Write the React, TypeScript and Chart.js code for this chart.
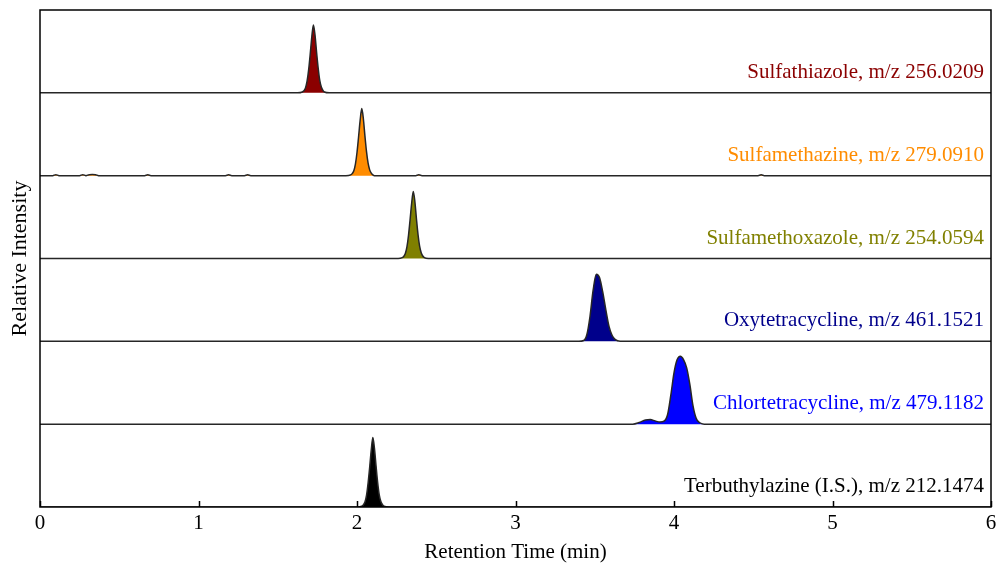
import React, { useEffect, useRef } from "react";
import { Chart, registerables } from "chart.js";

Chart.register(...registerables);

const xTicks = [0, 1, 2, 3, 4, 5, 6];

const compoundNames = [
  "Sulfathiazole, m/z 256.0209",
  "Sulfamethazine, m/z 279.0910",
  "Sulfamethoxazole, m/z 254.0594",
  "Oxytetracycline, m/z 461.1521",
  "Chlortetracycline, m/z 479.1182",
  "Terbuthylazine (I.S.), m/z 212.1474",
];
const compoundColors = ["#8B0000", "#FF8C00", "#808000", "#00008B", "#0000FF", "#000000"];

const sulfathiazoleTime = [0, 1.625, 1.655, 1.665, 1.675, 1.685, 1.695, 1.705, 1.715, 1.725, 1.735, 1.745, 1.755, 1.765, 1.775, 1.785, 1.795, 1.825, 6];
const sulfathiazoleIntensity = [0, 0, 0.01, 0.025, 0.06, 0.14, 0.28, 0.47, 0.68, 0.82, 0.70, 0.49, 0.30, 0.15, 0.07, 0.03, 0.01, 0, 0];

const sulfamethazineTime = [0, 0.08, 0.1, 0.12, 0.25, 0.27, 0.29, 0.31, 0.33, 0.35, 0.37, 0.39, 0.66, 0.68, 0.70, 1.17, 1.19, 1.21, 1.29, 1.31, 1.33, 1.93, 1.96, 1.97, 1.98, 1.99, 2.00, 2.01, 2.02, 2.03, 2.04, 2.05, 2.06, 2.07, 2.08, 2.09, 2.10, 2.11, 2.14, 2.37, 2.39, 2.41, 4.53, 4.55, 4.57, 6];
const sulfamethazineIntensity = [0, 0, 0.012, 0, 0, 0.012, 0, 0.012, 0.014, 0.012, 0, 0, 0, 0.01, 0, 0, 0.01, 0, 0, 0.01, 0, 0, 0.01, 0.025, 0.06, 0.14, 0.28, 0.47, 0.67, 0.81, 0.69, 0.48, 0.29, 0.15, 0.07, 0.03, 0.01, 0, 0, 0, 0.01, 0, 0, 0.01, 0, 0];

const sulfamethoxazoleTime = [0, 2.26, 2.285, 2.295, 2.305, 2.315, 2.325, 2.335, 2.345, 2.355, 2.365, 2.375, 2.385, 2.395, 2.405, 2.415, 2.425, 2.45, 6];
const sulfamethoxazoleIntensity = [0, 0, 0.01, 0.025, 0.06, 0.14, 0.28, 0.47, 0.67, 0.81, 0.69, 0.48, 0.29, 0.15, 0.07, 0.03, 0.01, 0, 0];

const oxytetracyclineTime = [0, 3.40, 3.43, 3.45, 3.47, 3.49, 3.51, 3.53, 3.55, 3.57, 3.59, 3.61, 3.63, 3.66, 6];
const oxytetracyclineIntensity = [0, 0, 0.01, 0.08, 0.30, 0.62, 0.81, 0.77, 0.60, 0.38, 0.18, 0.07, 0.02, 0, 0];

const chlortetracyclineTime = [0, 3.74, 3.78, 3.82, 3.85, 3.88, 3.91, 3.94, 3.96, 3.98, 4.00, 4.02, 4.04, 4.06, 4.08, 4.10, 4.12, 4.14, 4.16, 4.19, 6];
const chlortetracyclineIntensity = [0, 0, 0.02, 0.05, 0.055, 0.04, 0.025, 0.04, 0.12, 0.35, 0.62, 0.78, 0.82, 0.78, 0.68, 0.48, 0.22, 0.07, 0.02, 0, 0];

const terbuthylazineTime = [0, 2.00, 2.03, 2.04, 2.05, 2.06, 2.07, 2.08, 2.09, 2.10, 2.11, 2.12, 2.13, 2.14, 2.15, 2.16, 2.17, 2.20, 6];
const terbuthylazineIntensity = [0, 0, 0.01, 0.025, 0.06, 0.14, 0.29, 0.48, 0.69, 0.84, 0.71, 0.50, 0.30, 0.15, 0.07, 0.03, 0.01, 0, 0];

const traceTimes = [sulfathiazoleTime, sulfamethazineTime, sulfamethoxazoleTime, oxytetracyclineTime, chlortetracyclineTime, terbuthylazineTime];
const traceIntensities = [sulfathiazoleIntensity, sulfamethazineIntensity, sulfamethoxazoleIntensity, oxytetracyclineIntensity, chlortetracyclineIntensity, terbuthylazineIntensity];

const FONT = "'Liberation Serif', 'Times New Roman', serif";

const framePlugin = {
  id: "framePlugin",
  afterDraw(chart: any) {
    const { ctx, chartArea } = chart;
    const xs = chart.scales.x;
    const ys = chart.scales.y;
    ctx.save();
    // series labels
    ctx.font = `21px ${FONT}`;
    ctx.textAlign = "right";
    ctx.textBaseline = "alphabetic";
    const n = compoundNames.length;
    compoundNames.forEach((name, i) => {
      const base = ys.getPixelForValue(n - 1 - i);
      ctx.fillStyle = compoundColors[i];
      ctx.fillText(name, chartArea.right - 7, base - 15);
    });
    // frame
    ctx.strokeStyle = "#000";
    ctx.lineWidth = 1.5;
    ctx.strokeRect(chartArea.left, chartArea.top, chartArea.right - chartArea.left, chartArea.bottom - chartArea.top);
    // inward ticks
    ctx.beginPath();
    xTicks.forEach((t) => {
      const px = Math.round(xs.getPixelForValue(t)) + 0.5;
      ctx.moveTo(px, chartArea.bottom);
      ctx.lineTo(px, chartArea.bottom - 6);
    });
    ctx.stroke();
    ctx.restore();
  },
};

export default function App() {
  const canvasRef = useRef<HTMLCanvasElement | null>(null);

  useEffect(() => {
    const canvas = canvasRef.current;
    if (!canvas) return;
    const n = traceTimes.length;
    const datasets = traceTimes.map((times, i) => {
      const base = n - 1 - i;
      return {
        label: compoundNames[i],
        data: times.map((t, k) => ({ x: t, y: traceIntensities[i][k] + base })),
        borderColor: "#262626",
        borderWidth: 1.5,
        backgroundColor: compoundColors[i],
        fill: { value: base },
        pointRadius: 0,
        cubicInterpolationMode: "monotone" as const,
      };
    });
    const chart = new Chart(canvas, {
      type: "line",
      data: { datasets },
      options: {
        animation: false,
        responsive: false,
        maintainAspectRatio: false,
        layout: { padding: { left: 0, right: 6, top: 10, bottom: 1 } },
        plugins: { legend: { display: false }, tooltip: { enabled: false } },
        scales: {
          x: {
            type: "linear",
            min: 0,
            max: 6,
            afterBuildTicks: (scale: any) => {
              scale.ticks = xTicks.map((v) => ({ value: v }));
            },
            afterFit: (scale: any) => {
              scale.paddingLeft = 0;
              scale.paddingRight = 0;
            },
            grid: { display: false, drawTicks: false },
            border: { display: false },
            ticks: {
              color: "#000",
              padding: 6,
              font: { family: FONT, size: 21, lineHeight: 1 },
            },
            title: {
              display: true,
              text: "Retention Time (min)",
              color: "#000",
              padding: { top: 2, bottom: 0 },
              font: { family: FONT, size: 21, lineHeight: 1 },
            },
          },
          y: {
            type: "linear",
            min: 0,
            max: 6,
            grid: { display: false, drawTicks: false },
            border: { display: false },
            ticks: { display: false },
            title: {
              display: true,
              text: "Relative Intensity",
              color: "#000",
              padding: { top: 9, bottom: 9 },
              font: { family: FONT, size: 22, lineHeight: 1 },
            },
          },
        },
      },
      plugins: [framePlugin],
    });
    return () => chart.destroy();
  }, []);

  return (
    <div style={{ position: "absolute", left: 0, top: 0, width: 997, height: 564, background: "#fff" }}>
      <canvas ref={canvasRef} width={997} height={564} style={{ width: 997, height: 564, display: "block" }} />
    </div>
  );
}
